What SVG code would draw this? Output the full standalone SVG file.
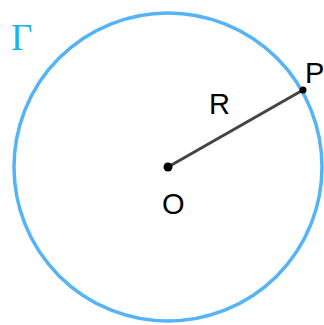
<svg xmlns="http://www.w3.org/2000/svg" width="324" height="325" viewBox="0 0 324 325">
<style>
.lbl{font-family:"Liberation Sans",Arial,sans-serif;font-size:29px;fill:#000}
.dot{fill:#000}
</style>
<rect width="324" height="325" fill="#fff"/>
<g id="circle-gamma">
<circle cx="168" cy="167" r="154" fill="none" stroke="#55b3f7" stroke-width="3.5"/>
<text x="11" y="50" font-family="Liberation Serif,'Times New Roman',serif" font-size="37" fill="#1ab2f0">Γ</text>
</g>
<g id="connectors">
<line x1="168" y1="167" x2="303" y2="90" stroke="#444" stroke-width="3"/>
</g>
<g id="node-O">
<circle class="dot" cx="168" cy="167" r="4.5"/>
<text class="lbl" x="162" y="214">O</text>
</g>
<g id="node-P">
<circle class="dot" cx="303" cy="90" r="3.5"/>
<text class="lbl" x="305" y="83">P</text>
</g>
<g id="label-R">
<text class="lbl" x="209" y="114">R</text>
</g>
</svg>
